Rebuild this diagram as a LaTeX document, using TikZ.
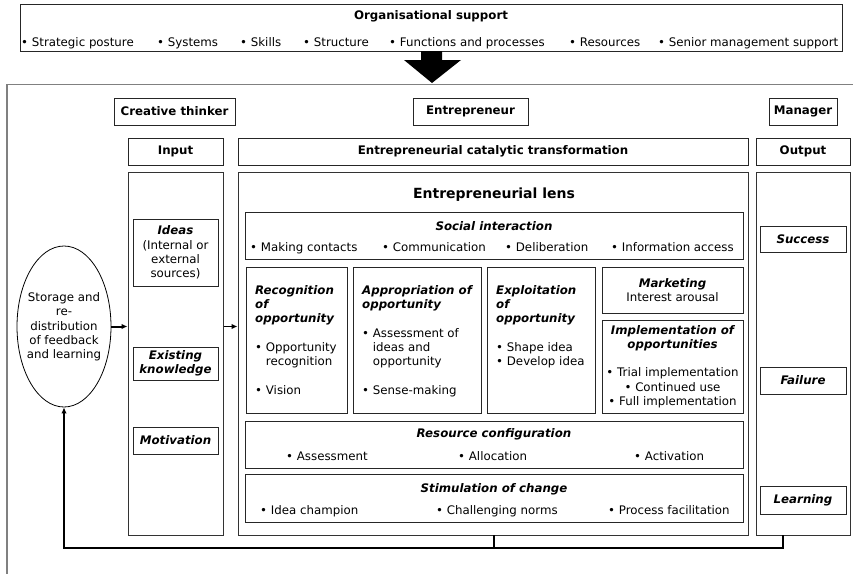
\documentclass[tikz,border=0pt]{standalone}
\usepackage{fontspec}
\setmainfont{DejaVu Sans}
\usetikzlibrary{arrows.meta,shapes.geometric}
\newcommand\bitx[1]{{\bfseries\itshape #1}}
\begin{document}
\begin{tikzpicture}[x=1pt,y=-1pt,
  every node/.style={font=\fontsize{11.8}{14.3}\selectfont, inner sep=0pt},
  box/.style={draw=black!85, line width=0.8pt, rectangle, align=center},
  colbox/.style={draw=black!80, line width=1pt, rectangle},
  frame/.style={draw=black!50, line width=1.3pt},
  item/.style={anchor=base west},
  title/.style={anchor=base},
  fb/.style={line width=2.4pt, black},
  tip/.style={-{Latex[length=6pt,width=5.5pt]}}]
\useasboundingbox (0,0) rectangle (853,573);
\clip (0,0) rectangle (853,573);

% organisational support banner
\node[box, minimum width=822pt, minimum height=47pt] (org) at (431,27.5) {};
\node[title, font=\fontsize{11.8}{14.3}\selectfont\bfseries] (orgt) at (431,19.5) {Organisational support};
\node[item] (o1) at (21,46) {• Strategic posture};
\node[item] (o2) at (157,46) {• Systems};
\node[item] (o3) at (240,46) {• Skills};
\node[item] (o4) at (303,46) {• Structure};
\node[item] (o5) at (389,46) {• Functions and processes};
\node[item] (o6) at (569,46) {• Resources};
\node[item] (o7) at (658,46) {• Senior management support};

% block arrow into the frame
\fill[black] (421,51) -- (442,51) -- (442,60) -- (461,60) -- (432,83) -- (404,60) -- (421,60) -- cycle;

% open outer frame
\draw[frame] (7,590) -- (7,84.5) -- (870,84.5);

% role headers
\node[box, font=\fontsize{11.8}{14.3}\selectfont\bfseries, minimum width=121pt, minimum height=27pt] (ct) at (174.5,111.5) {Creative thinker};
\node[box, font=\fontsize{11.8}{14.3}\selectfont\bfseries, minimum width=115pt, minimum height=27pt] (ent) at (470.5,111.5) {Entrepreneur};
\node[box, font=\fontsize{11.8}{14.3}\selectfont\bfseries, minimum width=68pt, minimum height=27pt] (man) at (803,111.5) {Manager};

% column headers
\node[box, font=\fontsize{11.8}{14.3}\selectfont\bfseries, minimum width=95pt, minimum height=27pt] (inh) at (175.5,151.5) {Input};
\node[box, font=\fontsize{11.8}{14.3}\selectfont\bfseries, minimum width=510pt, minimum height=27pt] (cat) at (493,151.5) {Entrepreneurial catalytic transformation};
\node[box, font=\fontsize{11.8}{14.3}\selectfont\bfseries, minimum width=94pt, minimum height=27pt] (outh) at (803,151.5) {Output};

% columns
\node[colbox, minimum width=95pt, minimum height=363pt] (incol) at (175.5,353.5) {};
\node[colbox, minimum width=510pt, minimum height=363pt] (lens) at (493,353.5) {};
\node[colbox, minimum width=94pt, minimum height=363pt] (outcol) at (803,353.5) {};

% input column
\node[box, minimum width=85pt, minimum height=67pt] (ideas) at (175.5,252.5) {\bitx{Ideas}\\(Internal or\\external\\sources)};
\node[box, minimum width=85pt, minimum height=33pt] (know) at (175.5,363.5) {\bitx{Existing}\\\bitx{knowledge}};
\node[box, minimum width=85pt, minimum height=27pt] (motiv) at (175.5,440.5) {\bitx{Motivation}};

% output column
\node[box, minimum width=86pt, minimum height=26pt] (succ) at (803,239) {\bitx{Success}};
\node[box, minimum width=86pt, minimum height=27pt] (fail) at (803,380.5) {\bitx{Failure}};
\node[box, minimum width=86pt, minimum height=28pt] (learn) at (803,500) {\bitx{Learning}};

% feedback store
\node[draw=black, line width=0.8pt, ellipse, minimum width=94pt, minimum height=161pt] (ell) at (64,326.5) {};
\node[align=center] (ellt) at (64,327) {Storage and\\re-\\distribution\\of feedback\\and learning};

% entrepreneurial lens
\node[title, font=\fontsize{14}{17}\selectfont\bfseries] (lenst) at (494,198) {Entrepreneurial lens};

\node[box, minimum width=498pt, minimum height=47pt] (soc) at (494,235.5) {};
\node[title] (soct) at (494,230.5) {\bitx{Social interaction}};
\node[item] (s1) at (250,251) {• Making contacts};
\node[item] (s2) at (382,251) {• Communication};
\node[item] (s3) at (505,251) {• Deliberation};
\node[item] (s4) at (611,251) {• Information access};

\node[box, minimum width=101pt, minimum height=146pt] (rec) at (296.5,340) {};
\node[anchor=north west, align=left] (rect) at (255,285) {\bitx{Recognition}\\\bitx{of}\\\bitx{opportunity}\\[14.3pt]• Opportunity\\\hphantom{• }recognition\\[14.3pt]• Vision};

\node[box, minimum width=128pt, minimum height=146pt] (app) at (417,340) {};
\node[anchor=north west, align=left] (appt) at (362,285) {\bitx{Appropriation of}\\\bitx{opportunity}\\[14.3pt]• Assessment of\\\hphantom{• }ideas and\\\hphantom{• }opportunity\\[14.3pt]• Sense-making};

\node[box, minimum width=108pt, minimum height=146pt] (exp) at (541,340) {};
\node[anchor=north west, align=left] (expt) at (496,285) {\bitx{Exploitation}\\\bitx{of}\\\bitx{opportunity}\\[14.3pt]• Shape idea\\• Develop idea};

\node[box, minimum width=141pt, minimum height=46pt] (mkt) at (672.5,290) {\bitx{Marketing}\\Interest arousal};
\node[box, minimum width=141pt, minimum height=93pt] (impl) at (672.5,366.5) {\bitx{Implementation of}\\\bitx{opportunities}\\[14.3pt]• Trial implementation\\• Continued use\\• Full implementation};

\node[box, minimum width=498pt, minimum height=47pt] (res) at (494,444.5) {};
\node[title] (rest) at (494,437.5) {\bitx{Resource configuration}};
\node[item] (r1) at (286,460) {• Assessment};
\node[item] (r2) at (458,460) {• Allocation};
\node[item] (r3) at (634,460) {• Activation};

\node[box, minimum width=498pt, minimum height=48pt] (stim) at (494,498) {};
\node[title] (stimt) at (494,492.5) {\bitx{Stimulation of change}};
\node[item] (c1) at (260,514) {• Idea champion};
\node[item] (c2) at (436,514) {• Challenging norms};
\node[item] (c3) at (608,514) {• Process facilitation};

% flow arrows
\draw[line width=2pt, tip] (ell.east) -- (ell.east -| incol.west);
\draw[line width=1.3pt, tip] (ell.east -| incol.east) -- (ell.east -| lens.west);

% feedback loop
\coordinate (fbout) at (783,535);
\coordinate (fblens) at (494,535);
\draw[fb] (fblens) -- (494,548);
\draw[fb, tip] (fbout) -- (783,548) -- (64,548) -- (ell.south);
\end{tikzpicture}
\end{document}
